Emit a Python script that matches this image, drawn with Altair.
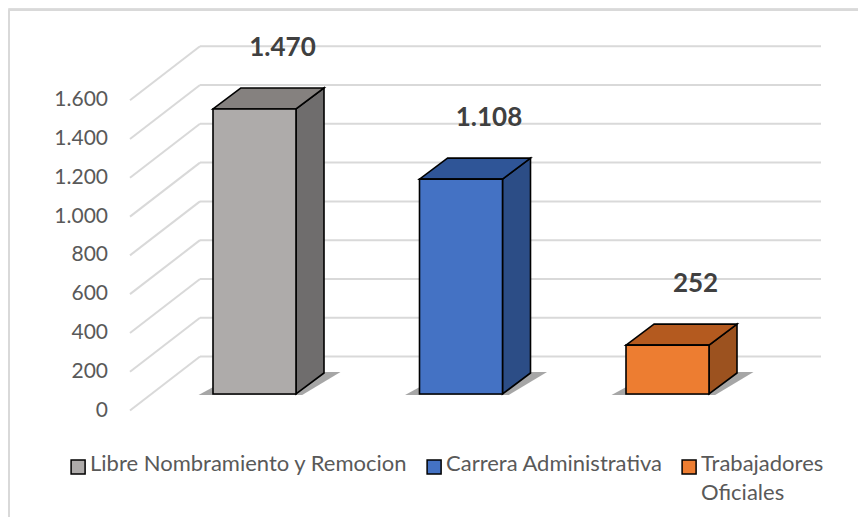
import altair as alt
import pandas as pd

# ---- data ----
categories = ["Libre Nombramiento y Remocion", "Carrera Administrativa", "Trabajadores Oficiales"]
values = [1470, 1108, 252]
front_colors = ["#AEABAA", "#4472C4", "#ED7D31"]
side_colors = ["#6F6D6D", "#2C4D86", "#9C521F"]
top_colors = ["#85817F", "#2F5597", "#B45A1F"]
tick_levels = [0, 200, 400, 600, 800, 1000, 1200, 1400, 1600]

# ---- 3D projection / layout constants (style only) ----
W, H = 850, 509
K = 0.1939            # px per value unit
Y_MAX = 402.5 / K
Y_MIN = -(H - 402.5) / K
STEP = 206.5          # px per category
X_MIN = -246.5 / STEP
X_MAX = (W - 246.5) / STEP
HALF = 41.5 / STEP    # half bar width
DX = 28 / STEP        # bar depth, x
DY = 21 / K           # bar depth, y
BAR_Y0 = 16.5 / K     # bar front plane lift
WALL_DY = 54 / K      # back wall lift
G_X0 = (122 - 246.5) / STEP
G_X1 = (192 - 246.5) / STEP
G_X2 = (813 - 246.5) / STEP

xs = alt.Scale(domain=[X_MIN, X_MAX], nice=False, zero=False)
ys = alt.Scale(domain=[Y_MIN, Y_MAX], nice=False, zero=False)

def fmt(v):
    return f"{v:,}".replace(",", ".")

# front faces
front = pd.DataFrame({
    "cat": categories,
    "xl": [i - HALF for i in range(len(categories))],
    "xr": [i + HALF for i in range(len(categories))],
    "y0": [BAR_Y0] * len(categories),
    "y1": [BAR_Y0 + v for v in values],
    "v": values,
    "lx": [i + DX for i in range(len(categories))],
    "ly": [BAR_Y0 + v + DY for v in values],
    "label": [fmt(v) for v in values],
})

side_rows, top_rows, shadow_rows = [], [], []
for i, (c, v) in enumerate(zip(categories, values)):
    xr = i + HALF
    xl = i - HALF
    side_rows.append({"cat": c, "fill": side_colors[i], "x": xr, "y": BAR_Y0 + v, "y2": BAR_Y0})
    side_rows.append({"cat": c, "fill": side_colors[i], "x": xr + DX, "y": BAR_Y0 + v + DY, "y2": BAR_Y0 + DY})
    top_rows.append({"cat": c, "fill": top_colors[i], "y": BAR_Y0 + v, "x": xl, "x2": xr})
    top_rows.append({"cat": c, "fill": top_colors[i], "y": BAR_Y0 + v + DY, "x": xl + DX, "x2": xr + DX})
    shadow_rows.append({"cat": c, "y": BAR_Y0 - 5, "x": xl - 0.07, "x2": xr + 0.03})
    shadow_rows.append({"cat": c, "y": BAR_Y0 + DY + 5, "x": xl + DX, "x2": xr + DX + 0.08})
side = pd.DataFrame(side_rows)
top = pd.DataFrame(top_rows)
shadow = pd.DataFrame(shadow_rows)

# gridlines
slant_rows = []
for lv in tick_levels:
    slant_rows.append({"lv": lv, "x": G_X0, "y": lv})
    slant_rows.append({"lv": lv, "x": G_X1, "y": lv + WALL_DY})
slant = pd.DataFrame(slant_rows)
back = pd.DataFrame({"lv": tick_levels, "x": [G_X1] * len(tick_levels),
                     "x2": [G_X2] * len(tick_levels), "y": [lv + WALL_DY for lv in tick_levels]})
axis_df = pd.DataFrame({"lv": tick_levels, "x": [G_X0] * len(tick_levels),
                        "t": [fmt(lv) for lv in tick_levels]})

GRID = "#D9D9D9"

axis_layer = alt.Chart(axis_df).mark_text(
    align="right", baseline="middle", dx=-22, fontSize=21, font="Lato", color="#595959"
).encode(
    x=alt.X("x:Q", scale=xs, axis=None),
    y=alt.Y("lv:Q", scale=ys, axis=None),
    text="t:N",
)

slant_layer = alt.Chart(slant).mark_line(color=GRID, strokeWidth=2).encode(
    x=alt.X("x:Q", scale=xs, axis=None),
    y=alt.Y("y:Q", scale=ys, axis=None),
    detail="lv:N",
)
back_layer = alt.Chart(back).mark_rule(color=GRID, strokeWidth=2).encode(
    x=alt.X("x:Q", scale=xs, axis=None), x2="x2:Q",
    y=alt.Y("y:Q", scale=ys, axis=None),
)

shadow_layer = alt.Chart(shadow).mark_area(orient="horizontal", color="#3a3a3a", opacity=0.45).encode(
    y=alt.Y("y:Q", scale=ys, axis=None),
    x=alt.X("x:Q", scale=xs, axis=None), x2="x2:Q",
    detail="cat:N",
)

front_layer = alt.Chart(front).mark_rect(stroke="black", strokeWidth=1.6).encode(
    x=alt.X("xl:Q", scale=xs, axis=None), x2="xr:Q",
    y=alt.Y("y0:Q", scale=ys, axis=None), y2="y1:Q",
    color=alt.Color("cat:N", scale=alt.Scale(domain=categories, range=front_colors),
                    legend=alt.Legend(
                        title=None, orient="none", direction="horizontal", legendX=57, legendY=435,
                        symbolType="M-0.7,0.85H1.3V2.85H-0.7Z", symbolSize=196, symbolStrokeColor="black",
                        symbolStrokeWidth=1.5, symbolOpacity=1, labelFontSize=22, labelFont="Lato",
                        labelColor="#595959", labelLimit=400, labelOffset=3, columnPadding=13,
                        padding=0, labelBaseline="top",
                        labelExpr="datum.label == 'Trabajadores Oficiales' ? ['Trabajadores', 'Oficiales'] : [datum.label, ' ']")),
)

side_layer = alt.Chart(side).mark_area(stroke="black", strokeWidth=1.6, opacity=1).encode(
    x=alt.X("x:Q", scale=xs, axis=None),
    y=alt.Y("y:Q", scale=ys, axis=None), y2="y2:Q",
    fill=alt.Fill("fill:N", scale=None),
    detail="cat:N",
)
top_layer = alt.Chart(top).mark_area(orient="horizontal", stroke="black", strokeWidth=1.6, opacity=1).encode(
    y=alt.Y("y:Q", scale=ys, axis=None),
    x=alt.X("x:Q", scale=xs, axis=None), x2="x2:Q",
    fill=alt.Fill("fill:N", scale=None),
    detail="cat:N",
)

label_layer = alt.Chart(front).mark_text(fontSize=26, fontWeight="bold", font="Lato",
                                         color="#404040", dy=-40, baseline="middle").encode(
    x=alt.X("lx:Q", scale=xs, axis=None),
    y=alt.Y("ly:Q", scale=ys, axis=None),
    text="label:N",
)

frame_top = alt.Chart(axis_df).mark_rule(color=GRID, strokeWidth=1.5).encode(
    x=alt.value(1), x2=alt.value(W), y=alt.value(2))
frame_left = alt.Chart(axis_df).mark_rule(color=GRID, strokeWidth=1.5).encode(
    x=alt.value(1), y=alt.value(2), y2=alt.value(H))

chart = alt.layer(
    frame_top, frame_left, slant_layer, back_layer, axis_layer, shadow_layer,
    side_layer, top_layer, front_layer, label_layer,
).properties(width=W, height=H, autosize="none", padding=0).configure_view(
    stroke=None
).configure(style={"guide-label": {"lineHeight": 29}})

chart.save("out.html", embed_options={"renderer": "svg", "actions": False})
